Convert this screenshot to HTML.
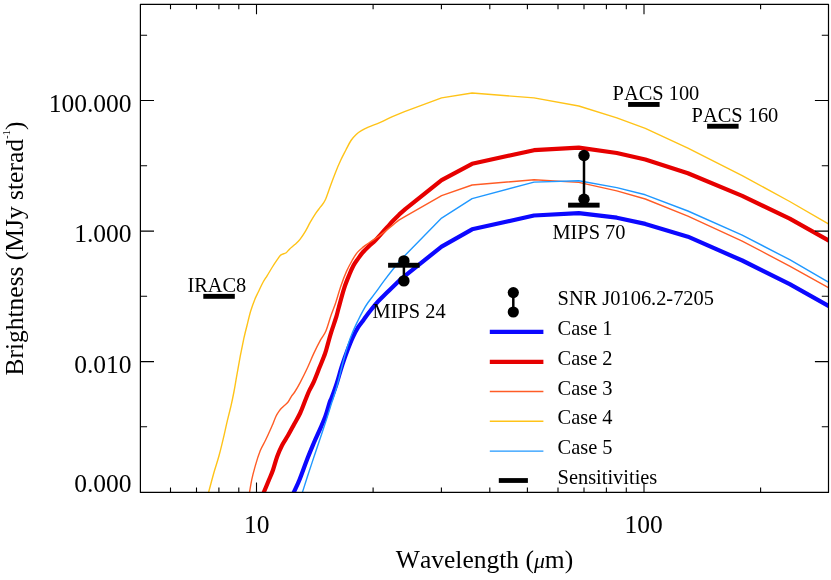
<!DOCTYPE html>
<html><head><meta charset="utf-8"><title>SED</title>
<style>
html,body{margin:0;padding:0;background:#fff;}
body{width:831px;height:580px;overflow:hidden;font-family:"Liberation Serif",serif;}
svg{display:block;position:absolute;left:0;top:0;will-change:transform;}
text{font-family:"Liberation Serif",serif;fill:#000;font-kerning:none;font-variant-ligatures:none;}
</style></head><body>
<svg width="831" height="580" viewBox="0 0 831 580">
<rect x="0" y="0" width="831" height="580" fill="#fff"/>
<defs><clipPath id="cp"><rect x="140.4" y="4.3" width="688.1" height="488.1"/></clipPath></defs>

<g clip-path="url(#cp)" fill="none" stroke-linejoin="round" stroke-linecap="butt">
<path d="M290.9,498.8C291.4,497.8 292.4,495.6 293.8,492.4C295.2,489.2 297.5,484.8 299.6,479.5C301.8,474.2 304.4,466.5 306.7,460.5C309.0,454.5 311.4,448.8 313.7,443.3C316.0,437.9 318.6,432.4 320.6,427.8C322.6,423.2 324.1,420.0 325.6,415.7C327.1,411.4 328.8,404.9 329.8,401.9C330.8,398.9 330.5,400.7 331.7,397.5C332.9,394.3 335.2,388.1 336.9,382.8C338.6,377.5 340.3,371.0 342.1,365.5C343.9,360.0 345.8,354.7 347.6,350.0C349.4,345.3 351.2,340.8 352.9,337.1C354.6,333.4 356.2,330.3 357.9,327.6C359.6,324.9 361.7,322.5 363.0,320.7C364.3,318.9 364.4,318.6 365.8,316.7C367.2,314.8 369.3,312.0 371.3,309.5C373.3,307.0 375.8,304.0 377.9,301.7C380.0,299.4 381.8,297.6 384.0,295.5C386.2,293.4 388.0,291.6 390.9,288.8L401.2,278.8L441.6,246.6L472.1,229.3L534.0,215.5L578.8,213.1L616.8,217.7L645.3,223.9L687.9,236.7L742.2,260.5L789.7,284.2L828.4,305.8L840.0,312.3" stroke="#0c08ff" stroke-width="4.2"/>
<path d="M261.5,498.0C261.8,497.0 262.6,495.1 263.8,492.3C265.0,489.5 267.0,484.7 268.5,481.0C270.0,477.3 271.6,474.1 273.0,470.0C274.4,465.9 275.7,460.6 277.2,456.5C278.7,452.4 280.3,448.7 282.1,445.2C283.9,441.7 286.1,438.8 288.1,435.3C290.1,431.8 292.1,428.0 294.1,424.3C296.1,420.6 298.3,417.1 300.2,413.0C302.1,408.9 303.9,403.7 305.4,400.0C306.9,396.3 307.7,394.1 309.1,391.0C310.5,387.9 312.3,385.3 314.0,381.4C315.7,377.5 317.7,372.2 319.5,367.6C321.3,363.0 323.6,357.7 325.0,353.8C326.4,349.9 326.8,347.6 327.8,344.1C328.8,340.6 329.6,337.3 331.0,332.8C332.4,328.3 334.9,321.5 336.2,317.2C337.5,312.9 337.5,311.9 338.9,307.0C340.2,302.1 342.5,293.4 344.3,287.8C346.1,282.2 348.3,277.2 349.8,273.5C351.3,269.8 352.3,267.8 353.5,265.5C354.7,263.2 355.5,262.2 357.1,260.0C358.7,257.8 361.1,254.3 363.1,252.0C365.1,249.7 367.1,247.9 369.1,246.0C371.1,244.1 373.2,242.4 375.2,240.4C377.2,238.4 379.2,236.0 381.2,233.8C383.2,231.6 385.2,229.4 387.2,227.2C389.2,225.0 391.3,222.6 393.3,220.5C395.3,218.4 397.3,216.3 399.3,214.4L405.3,209.1L441.6,180.2L472.1,163.8L534.0,150.2L578.8,147.6L616.8,153.0L645.3,159.5L687.9,173.2L742.2,195.9L789.7,218.7L828.4,240.3L840.0,246.8" stroke="#e60000" stroke-width="4.2"/>
<path d="M248.4,498.5C248.6,497.5 248.9,495.4 249.5,492.3C250.1,489.2 250.8,484.3 251.7,479.9C252.6,475.5 253.8,471.0 255.2,466.1C256.6,461.2 258.6,454.9 260.3,450.6C262.0,446.3 263.9,443.6 265.5,440.3C267.1,437.0 268.9,433.2 270.0,430.6C271.1,428.1 271.4,427.4 272.4,425.0C273.4,422.6 274.9,418.6 276.0,416.2C277.1,413.8 278.2,412.4 279.3,410.8C280.4,409.2 281.4,408.3 282.8,406.9C284.2,405.5 286.5,404.1 287.9,402.3C289.3,400.5 290.3,398.0 291.4,396.3C292.5,394.6 293.3,394.2 294.7,392.0C296.1,389.8 298.0,386.6 300.0,382.8C302.0,379.0 304.6,373.9 306.9,369.0C309.2,364.1 311.5,358.3 313.8,353.4C316.1,348.5 318.7,343.4 320.7,339.7C322.7,336.0 324.2,335.0 325.9,331.0C327.6,327.0 329.4,320.2 331.0,315.5C332.6,310.8 334.2,307.4 335.8,302.5C337.4,297.6 339.1,291.2 340.9,286.0C342.7,280.8 344.6,275.7 346.5,271.4C348.4,267.1 350.5,263.4 352.3,260.2C354.1,257.0 355.6,254.6 357.4,252.4C359.2,250.2 361.2,248.7 363.1,247.1C365.1,245.5 367.1,244.2 369.1,242.8C371.1,241.4 373.2,240.0 375.2,238.6C377.2,237.2 379.2,235.9 381.2,234.4C383.2,232.9 385.2,231.2 387.2,229.6C389.2,228.0 391.3,226.3 393.3,224.7C395.3,223.1 397.3,221.3 399.3,219.9L405.3,216.3L441.6,195.7L472.1,185.0L534.0,179.8L578.8,182.4L616.8,190.9L645.3,199.0L687.9,216.2L742.2,241.1L789.7,266.1L828.4,287.7L840.0,294.2" stroke="#ff5c26" stroke-width="1.4"/>
<path d="M206.0,502.0C206.4,500.3 207.3,497.1 208.6,492.3C209.9,487.5 212.1,479.1 213.8,473.0C215.5,466.9 217.3,462.1 219.0,455.8C220.7,449.5 222.7,441.1 224.1,435.1C225.5,429.1 226.4,424.5 227.6,419.6C228.8,414.7 229.9,410.4 231.0,405.8C232.1,401.2 232.9,397.2 233.9,392.0C234.9,386.8 235.8,380.8 236.9,374.8C238.0,368.8 239.2,361.8 240.3,355.8C241.5,349.8 242.7,343.8 243.8,338.6C245.0,333.4 246.0,329.4 247.2,324.8C248.3,320.2 249.4,315.3 250.7,311.0C252.0,306.7 253.7,302.1 255.0,298.9C256.3,295.7 257.0,294.7 258.3,292.0C259.6,289.3 261.4,285.2 262.9,282.5C264.4,279.8 265.6,278.2 267.2,275.6C268.8,273.0 270.7,269.7 272.4,267.0C274.1,264.3 276.2,261.2 277.6,259.2C279.0,257.2 279.6,256.0 281.0,254.9C282.4,253.8 284.8,253.7 286.2,252.7C287.6,251.7 288.3,250.2 289.7,248.9C291.1,247.6 293.1,246.2 294.8,244.6C296.5,243.0 298.3,241.6 300.0,239.4C301.7,237.2 303.5,234.6 305.2,231.7C306.9,228.8 308.6,225.2 310.3,222.2C312.0,219.2 313.8,216.2 315.5,213.6C317.2,211.0 319.1,208.9 320.7,206.7C322.3,204.5 323.5,203.7 325.1,200.3C326.7,196.9 328.6,190.8 330.3,186.2C332.0,181.5 333.8,176.7 335.5,172.4C337.2,168.1 339.0,164.0 340.7,160.3C342.4,156.6 344.2,153.3 345.9,150.0C347.6,146.7 349.3,143.1 351.0,140.5C352.7,137.9 354.5,136.1 356.2,134.5C357.9,132.9 359.4,131.9 361.4,130.7C363.4,129.5 365.1,128.6 368.3,127.2C371.5,125.8 376.3,124.2 380.3,122.4C384.3,120.7 388.4,118.5 392.4,116.7L404.5,111.6L441.6,97.9L472.1,93.0L534.0,97.9L578.8,106.0L616.8,117.8L645.3,128.3L687.9,148.2L742.2,175.6L789.7,201.5L828.4,223.9L840.0,230.6" stroke="#ffc318" stroke-width="1.4"/>
<path d="M299.8,500.6C300.2,499.2 301.1,496.5 302.4,492.4C303.7,488.3 305.6,482.2 307.6,476.0C309.6,469.8 312.2,462.2 314.5,455.3C316.8,448.4 319.4,440.7 321.4,434.7C323.4,428.7 325.0,424.0 326.6,419.1C328.2,414.2 329.8,408.9 330.9,405.3C332.0,401.7 332.3,401.2 333.5,397.5C334.7,393.8 336.4,388.4 337.9,382.8C339.4,377.2 341.0,369.8 342.6,363.8C344.2,357.8 345.8,351.8 347.4,346.6C349.0,341.4 350.6,337.1 352.4,332.8C354.1,328.5 356.1,324.4 357.9,320.7C359.7,316.9 361.6,313.2 363.2,310.3C364.8,307.4 365.7,305.9 367.7,303.0C369.7,300.1 372.6,296.6 375.3,292.9C378.0,289.2 381.1,284.8 384.0,280.9C386.9,277.0 389.7,273.3 392.6,269.7L401.2,259.3L441.6,218.1L472.1,198.6L534.0,182.1L578.8,180.7L616.8,187.6L645.3,194.8L687.9,211.0L742.2,235.1L789.7,259.7L828.4,282.1L840.0,288.8" stroke="#2098ff" stroke-width="1.4"/>
</g>
<g stroke="#000" stroke-width="1.2" fill="none" stroke-linejoin="round">
<rect x="140.4" y="4.3" width="688.1" height="488.1"/>
<path stroke-width="1.1" d="M170.5,492.4v-5.0M170.5,4.3v5.0M196.5,492.4v-5.0M196.5,4.3v5.0M218.9,492.4v-5.0M218.9,4.3v5.0M238.8,492.4v-5.0M238.8,4.3v5.0M256.5,492.4v-10.0M256.5,4.3v10.0M373.1,492.4v-5.0M373.1,4.3v5.0M441.4,492.4v-5.0M441.4,4.3v5.0M489.8,492.4v-5.0M489.8,4.3v5.0M527.4,492.4v-5.0M527.4,4.3v5.0M558.0,492.4v-5.0M558.0,4.3v5.0M584.0,492.4v-5.0M584.0,4.3v5.0M606.4,492.4v-5.0M606.4,4.3v5.0M626.3,492.4v-5.0M626.3,4.3v5.0M644.0,492.4v-10.0M644.0,4.3v10.0M760.6,492.4v-5.0M760.6,4.3v5.0M140.4,35.3h6.7M828.5,35.3h-6.7M140.4,100.5h13.6M828.5,100.5h-13.6M140.4,165.8h6.7M828.5,165.8h-6.7M140.4,231.1h13.6M828.5,231.1h-13.6M140.4,296.3h6.7M828.5,296.3h-6.7M140.4,361.6h13.6M828.5,361.6h-13.6M140.4,426.8h6.7M828.5,426.8h-6.7"/>
</g>
<text x="131.6" y="111.5" font-size="25.5" text-anchor="end">100.000</text>
<text x="131.6" y="242.2" font-size="25.5" text-anchor="end">1.000</text>
<text x="131.6" y="372.6" font-size="25.5" text-anchor="end">0.010</text>
<text x="131.6" y="492.4" font-size="25.5" text-anchor="end">0.000</text>
<text x="256.8" y="532.8" font-size="25.5" text-anchor="middle">10</text>
<text x="643.6" y="532.8" font-size="25.5" text-anchor="middle">100</text>
<text x="484.5" y="568.2" font-size="25.5" text-anchor="middle">Wavelength (<tspan font-style="italic" font-size="21.7">μ</tspan>m)</text>
<text transform="translate(23.4,248.5) rotate(-90)" font-size="25.5" text-anchor="middle">Brightness (MJy sterad<tspan font-size="11" dy="-13">-1</tspan><tspan dy="13">)</tspan></text>
<rect x="203.3" y="293.9" width="31.5" height="4.9" fill="#000"/>
<rect x="388.1" y="262.8" width="31.5" height="4.9" fill="#000"/>
<rect x="568.1" y="202.7" width="31.5" height="4.9" fill="#000"/>
<rect x="628.1" y="102.0" width="31.5" height="4.9" fill="#000"/>
<rect x="707.1" y="123.8" width="31.5" height="4.9" fill="#000"/>
<text x="187.4" y="291.5" font-size="20.4">IRAC8</text>
<text x="372.6" y="317.6" font-size="20.4">MIPS 24</text>
<text x="552.4" y="238.6" font-size="20.4">MIPS 70</text>
<text x="612.6" y="99.5" font-size="20.4">PACS 100</text>
<text x="691.6" y="121.9" font-size="20.4">PACS 160</text>
<line x1="403.9" y1="260.9" x2="403.9" y2="280.9" stroke="#000" stroke-width="2.5"/><circle cx="403.9" cy="260.9" r="5.7"/><circle cx="403.9" cy="280.9" r="5.7"/>
<line x1="584.0" y1="155.5" x2="584.0" y2="199.2" stroke="#000" stroke-width="2.5"/><circle cx="584.0" cy="155.5" r="5.7"/><circle cx="584.0" cy="199.2" r="5.7"/>
<line x1="513.3" y1="292.6" x2="513.3" y2="312.0" stroke="#000" stroke-width="2.5"/><circle cx="513.3" cy="292.6" r="5.6"/><circle cx="513.3" cy="312.0" r="5.6"/>
<line x1="489.8" x2="543.4" y1="331.9" y2="331.9" stroke="#0c08ff" stroke-width="4.2"/>
<line x1="489.8" x2="543.4" y1="361.8" y2="361.8" stroke="#e60000" stroke-width="4.2"/>
<line x1="489.8" x2="543.4" y1="391.5" y2="391.5" stroke="#ff5c26" stroke-width="1.4"/>
<line x1="489.8" x2="543.4" y1="421.3" y2="421.3" stroke="#ffc318" stroke-width="1.4"/>
<line x1="489.8" x2="543.4" y1="451.1" y2="451.1" stroke="#2098ff" stroke-width="1.4"/>
<rect x="498.8" y="478.1" width="29.1" height="4.8" fill="#000"/>
<text x="557.6" y="305.2" font-size="20.4">SNR J0106.2-7205</text>
<text x="557.6" y="335.0" font-size="20.4">Case 1</text>
<text x="557.6" y="364.8" font-size="20.4">Case 2</text>
<text x="557.6" y="394.6" font-size="20.4">Case 3</text>
<text x="557.6" y="424.4" font-size="20.4">Case 4</text>
<text x="557.6" y="454.2" font-size="20.4">Case 5</text>
<text x="557.6" y="484.0" font-size="20.4">Sensitivities</text>
</svg></body></html>
